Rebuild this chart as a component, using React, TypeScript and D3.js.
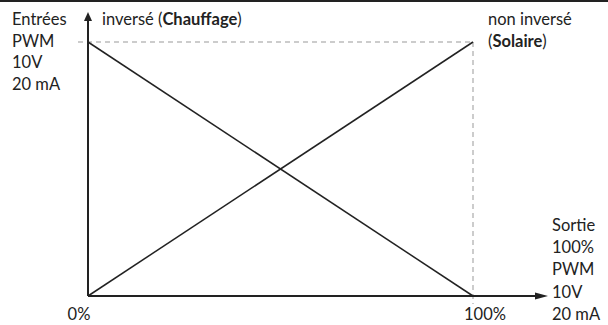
import React from "react";
import * as d3 from "d3";

const inputPct = [0, 100];
const inverseOut = [100, 0];
const directOut = [0, 100];
const leftLabels = ["Entrées", "PWM", "10V", "20 mA"];
const rightLabels = ["Sortie", "100%", "PWM", "10V", "20 mA"];
const xTickLabels = ["0%", "100%"];

const W = 608, H = 325;
const FONT = "Lato, 'Open Sans', sans-serif";

export default function App() {
  const x = d3.scaleLinear().domain([0, 100]).range([88, 473]);
  const y = d3.scaleLinear().domain([0, 100]).range([296, 42]);
  const line = d3.line<[number, number]>().x(d => x(d[0])).y(d => y(d[1]));
  const inv = inputPct.map((v, i) => [v, inverseOut[i]] as [number, number]);
  const dir = inputPct.map((v, i) => [v, directOut[i]] as [number, number]);
  const x0 = x(0), y0 = y(0), x1 = x(100), y1 = y(100);
  return (
    <svg width={W} height={H} style={{ position: "absolute", left: 0, top: 0 }} fontFamily={FONT} fontSize={16.5}>
      <rect x={0} y={0} width={W} height={H} fill="#fff" />
      <rect x={0} y={0} width={W} height={2} fill="#222" />
      {/* dashed guides */}
      <line x1={78} x2={x1} y1={y1} y2={y1} stroke="#999" strokeWidth={1} strokeDasharray="5,4" />
      <line x1={x1} x2={x1} y1={y1} y2={y0 + 8} stroke="#999" strokeWidth={1} strokeDasharray="5,4" />
      {/* data lines */}
      <path d={line(inv) || ""} fill="none" stroke="#222" strokeWidth={1.5} />
      <path d={line(dir) || ""} fill="none" stroke="#222" strokeWidth={1.5} />
      {/* axes */}
      <line x1={x0} x2={x0} y1={y0} y2={18} stroke="#222" strokeWidth={2} />
      <path d={`M${x0},12 L${x0 - 4},21 L${x0 + 4},21 Z`} fill="#222" />
      <line x1={x0} x2={540} y1={y0} y2={y0} stroke="#222" strokeWidth={2} />
      <path d={`M548,${y0} L535,${y0 - 3.5} L535,${y0 + 3.5} Z`} fill="#222" />
      {/* tick labels */}
      <text x={x0 - 9} y={320} textAnchor="middle" fill="#222">{xTickLabels[0]}</text>
      <text x={x1 + 12} y={320} textAnchor="middle" fill="#222">{xTickLabels[1]}</text>
      {/* left labels */}
      {leftLabels.map((t, i) => (
        <text key={t} x={12} y={25 + i * 21.7} fill="#222">{t}</text>
      ))}
      {/* right labels */}
      {rightLabels.map((t, i) => (
        <text key={i} x={552} y={231 + i * 22.2} fill="#222">{t}</text>
      ))}
      <text x={102} y={25} fill="#222">inversé (<tspan fontWeight="bold">Chauffage</tspan>)</text>
      <text x={488} y={25} fill="#222">non inversé</text>
      <text x={488} y={47} fill="#222">(<tspan fontWeight="bold">Solaire</tspan>)</text>
    </svg>
  );
}
